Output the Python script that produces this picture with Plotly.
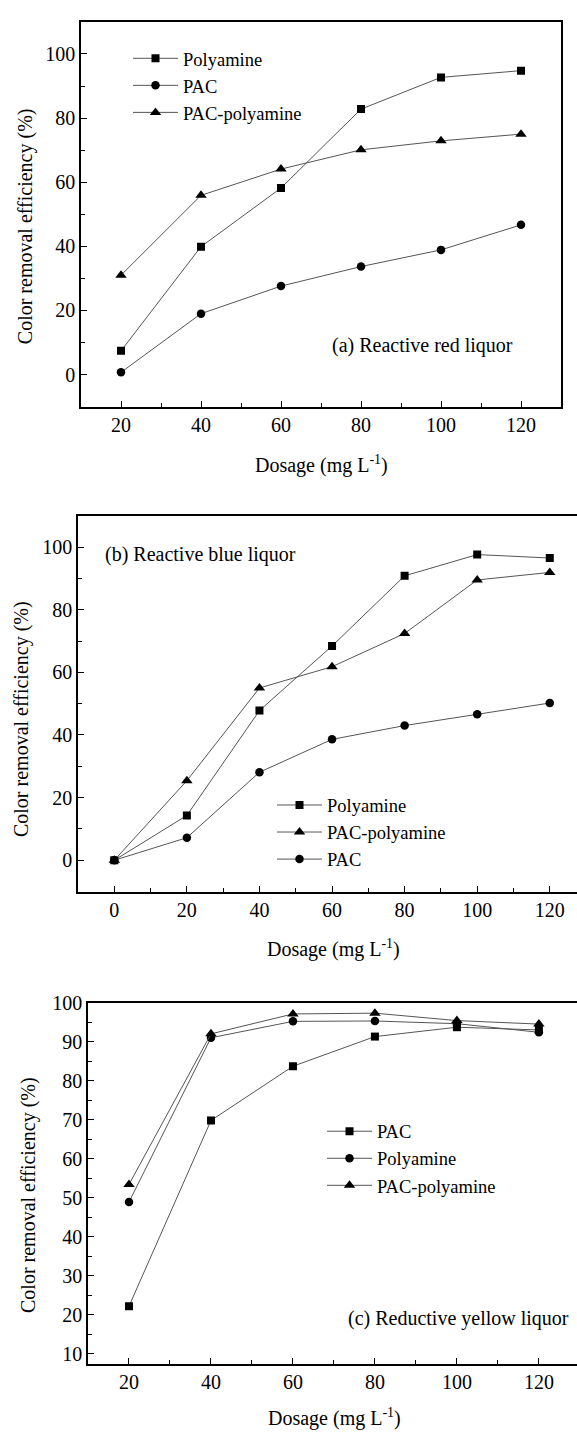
import plotly.graph_objects as go

W, H = 577, 1434
FONT = "Liberation Serif, Times New Roman, Times, serif"

# ---------------- data ----------------
dose_a = [20, 40, 60, 80, 100, 120]
a_polyamine = [7.4, 39.9, 58.2, 82.8, 92.7, 94.8]
a_pac = [0.7, 19.0, 27.6, 33.7, 38.9, 46.7]
a_pac_poly = [31.0, 55.9, 64.1, 70.1, 72.9, 75.0]

dose_b = [0, 20, 40, 60, 80, 100, 120]
b_polyamine = [0, 14.3, 47.8, 68.4, 90.8, 97.6, 96.5]
b_pac_poly = [0, 25.4, 55.0, 61.8, 72.4, 89.5, 91.9]
b_pac = [0, 7.2, 28.1, 38.6, 43.0, 46.6, 50.2]

dose_c = [20, 40, 60, 80, 100, 120]
c_pac = [22.2, 69.8, 83.7, 91.3, 93.7, 93.0]
c_polyamine = [48.9, 91.0, 95.2, 95.3, 94.6, 92.4]
c_pac_poly = [53.4, 92.0, 97.1, 97.3, 95.4, 94.5]

y_title = "Color removal efficiency (%)"
x_title = "Dosage (mg L<sup>-1</sup>)"
panel_labels = ["(a) Reactive red liquor", "(b) Reactive blue liquor", "(c) Reductive yellow liquor"]

# ---------------- helpers ----------------
def fx(px):
    return px / W

def fy(px):
    return 1 - px / H

LINE_COL = "#555555"
SIZES = {"square": 8, "circle": 8.5, "triangle-up": 10}

fig = go.Figure()

def add(x, y, name, symbol, xa, ya, legend):
    fig.add_trace(go.Scatter(
        x=x, y=y, name=name, mode="lines+markers",
        line=dict(color=LINE_COL, width=1),
        marker=dict(symbol=symbol, size=SIZES[symbol], color="black"),
        xaxis=xa, yaxis=ya, legend=legend,
    ))

add(dose_a, a_polyamine, "Polyamine", "square", "x", "y", "legend")
add(dose_a, a_pac, "PAC", "circle", "x", "y", "legend")
add(dose_a, a_pac_poly, "PAC-polyamine", "triangle-up", "x", "y", "legend")

add(dose_b, b_polyamine, "Polyamine", "square", "x2", "y2", "legend2")
add(dose_b, b_pac_poly, "PAC-polyamine", "triangle-up", "x2", "y2", "legend2")
add(dose_b, b_pac, "PAC", "circle", "x2", "y2", "legend2")

add(dose_c, c_pac, "PAC", "square", "x3", "y3", "legend3")
add(dose_c, c_polyamine, "Polyamine", "circle", "x3", "y3", "legend3")
add(dose_c, c_pac_poly, "PAC-polyamine", "triangle-up", "x3", "y3", "legend3")

tickfont = dict(family=FONT, size=20, color="black")

def axis(domain, rng, dtick, minor_dtick, mirror, anchor):
    return dict(
        domain=domain, range=rng, anchor=anchor,
        showline=True, linecolor="black", linewidth=1.6, mirror=mirror,
        ticks="inside", ticklen=6, tickwidth=1.3, tickcolor="black",
        tick0=0, dtick=dtick, tickfont=tickfont, showgrid=False, zeroline=False,
        minor=dict(ticks="inside", ticklen=4, tickwidth=1.3, tickcolor="black", dtick=minor_dtick, tick0=0),
    )

layout = dict(
    width=W, height=H, margin=dict(l=0, r=0, t=0, b=0),
    paper_bgcolor="white", plot_bgcolor="white", showlegend=True,
    xaxis=axis([fx(81), fx(561)], [10, 130], 20, 10, True, "y"),
    yaxis=axis([fy(399), fy(11)], [-10, 110], 20, 10, True, "x"),
    xaxis2=axis([fx(78), 1], [-10, 127.5], 20, 10, True, "y2"),
    yaxis2=axis([fy(888), fy(509)], [-10, 110], 20, 10, False, "x2"),
    xaxis3=axis([fx(88), 1], [10, 129.3], 20, 10, True, "y3"),
    yaxis3=axis([fy(1364), fy(1000)], [7.5, 100], 10, 5, False, "x3"),
)

legfont = dict(family=FONT, size=18.5, color="black")
def leg(xpx, ypx):
    return dict(x=fx(xpx), y=fy(ypx), xanchor="left", yanchor="top", font=legfont,
                bgcolor="rgba(0,0,0,0)", borderwidth=0, itemwidth=45, tracegroupgap=0)

layout["legend"] = leg(128, 29)
layout["legend2"] = leg(272, 782)
layout["legend3"] = leg(322, 1111)

fig.update_layout(**layout)

ann_font = dict(family=FONT, size=20, color="black")
def ann(text, xpx, ypx, xanchor="center", angle=0):
    fig.add_annotation(text=text, x=fx(xpx), y=fy(ypx), xref="paper", yref="paper",
                       xanchor=xanchor, yanchor="middle", showarrow=False, font=ann_font,
                       textangle=angle)

# panel labels
ann(panel_labels[0], 515, 337, "right")
ann(panel_labels[1], 103, 548, "left")
ann(panel_labels[2], 571, 1319, "right")
# axis titles
ann(y_title, 25, 217, angle=-90)
ann(y_title, 21, 714, angle=-90)
ann(y_title, 28, 1194, angle=-90)
ann(x_title, 321, 457)
ann(x_title, 333, 945)
ann(x_title, 334, 1418)

fig.write_html("out.html")
